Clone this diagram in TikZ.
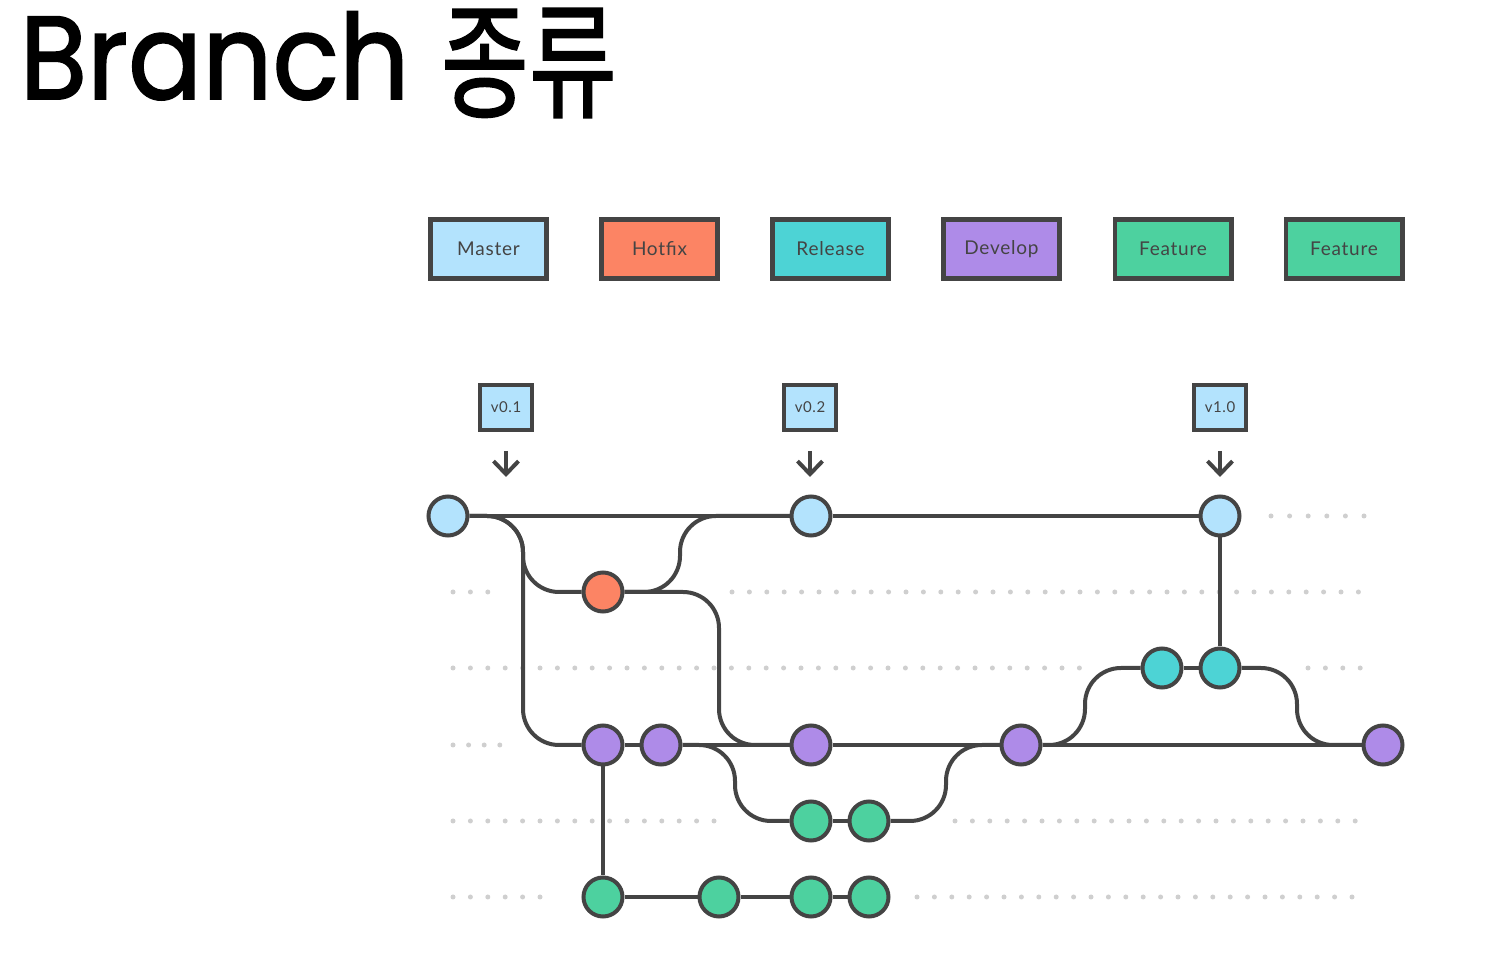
\documentclass[tikz,border=0pt]{standalone}
\usepackage{fontspec}
\usetikzlibrary{arrows.meta}
\newfontfamily\titlefont[FakeBold=1.6]{Poppins}
\newfontfamily\krfont[FakeBold=1.2]{Noto Sans CJK KR}
\newfontfamily\labelfont[LetterSpace=4]{Lato}
\definecolor{ink}{HTML}{444444}
\definecolor{cmaster}{HTML}{B3E3FD}
\definecolor{chotfix}{HTML}{FC8464}
\definecolor{crelease}{HTML}{4DD3D5}
\definecolor{cdevelop}{HTML}{AE8BE8}
\definecolor{cfeature}{HTML}{4DD19F}
\definecolor{cdot}{HTML}{CFCFCF}
\pgfdeclarelayer{dots}
\pgfdeclarelayer{links}
\pgfsetlayers{dots,links,main}
\tikzset{
  commit/.style={circle,draw=ink,line width=2pt,minimum size=19.5pt,inner sep=0pt},
  branchbox/.style={draw=ink,line width=2.3pt,minimum width=58.2pt,minimum height=29.7pt,inner sep=0pt,
    font=\labelfont\fontsize{9.5}{11}\selectfont,text=ink},
  tagbox/.style={draw=ink,fill=cmaster,line width=2pt,minimum width=26pt,minimum height=22.5pt,inner sep=0pt,
    font=\labelfont\fontsize{7.5}{9}\selectfont,text=ink},
  link/.style={draw=ink,line width=2pt,rounded corners=18pt},
  tagarrow/.style={draw=ink,line width=2pt,-{Straight Barb[length=6.5pt,width=12.5pt]}},
  dotrow/.style={draw=cdot,line width=2.5pt,line cap=round,dash pattern=on 0pt off 8.7pt},
}
\begin{document}
\begin{tikzpicture}[x=0.5pt,y=-0.5pt]
\useasboundingbox (0,0) rectangle (1496,972);
% title
\node[anchor=base west,inner sep=0pt,xscale=0.93] (title) at (19.5,99) {\titlefont\fontsize{59}{60}\selectfont Branch};
\node[anchor=base west,inner sep=0pt,xscale=0.76] (titlekr) at (440.5,108) {\krfont\fontsize{63}{66}\selectfont 종류};
% branch legend
\node[branchbox,fill=cmaster] (bmaster) at (488.5,249) {Master};
\node[branchbox,fill=chotfix] (bhotfix) at (659.5,249) {Hotfix};
\node[branchbox,fill=crelease] (brelease) at (830.5,249) {Release};
\node[branchbox,fill=cdevelop] (bdevelop) at (1001.5,249) {Develop};
\node[branchbox,fill=cfeature] (bfeat1) at (1173,249) {Feature};
\node[branchbox,fill=cfeature] (bfeat2) at (1344,249) {Feature};
% tags
\node[tagbox] (v01) at (506,407.5) {v0.1};
\node[tagbox] (v02) at (810,407.5) {v0.2};
\node[tagbox] (v10) at (1220,407.5) {v1.0};
\coordinate (a1) at (506,477);
\coordinate (a2) at (810,477);
\coordinate (a3) at (1220,477);
\draw[tagarrow] ([yshift=-9.5pt]v01.south) -- (a1);
\draw[tagarrow] ([yshift=-9.5pt]v02.south) -- (a2);
\draw[tagarrow] ([yshift=-9.5pt]v10.south) -- (a3);
% commits
\node[commit,fill=cmaster] (m1) at (448,516) {};
\node[commit,fill=cmaster] (m2) at (811,516) {};
\node[commit,fill=cmaster] (m3) at (1220,516) {};
\node[commit,fill=chotfix] (h1) at (603,592) {};
\node[commit,fill=crelease] (r1) at (1162,668) {};
\node[commit,fill=crelease] (r2) at (1220,668) {};
\node[commit,fill=cdevelop] (d1) at (603,745) {};
\node[commit,fill=cdevelop] (d2) at (661,745) {};
\node[commit,fill=cdevelop] (d3) at (811,745) {};
\node[commit,fill=cdevelop] (d4) at (1021,745) {};
\node[commit,fill=cdevelop] (d5) at (1383,745) {};
\node[commit,fill=cfeature] (f1) at (811,821) {};
\node[commit,fill=cfeature] (f2) at (869,821) {};
\node[commit,fill=cfeature] (g1) at (603,897) {};
\node[commit,fill=cfeature] (g2) at (719,897) {};
\node[commit,fill=cfeature] (g3) at (811,897) {};
\node[commit,fill=cfeature] (g4) at (869,897) {};
% bend points
\coordinate (k1) at (523,516);
\coordinate (k2) at (523,745);
\coordinate (k3) at (523,592);
\coordinate (k4) at (680,592);
\coordinate (k5) at (680,516);
\coordinate (k6) at (719,592);
\coordinate (k7) at (719,745);
\coordinate (k8) at (735,745);
\coordinate (k9) at (735,821);
\coordinate (k10) at (946,821);
\coordinate (k11) at (946,745);
\coordinate (k12) at (1085,745);
\coordinate (k13) at (1085,668);
\coordinate (k14) at (1297,668);
\coordinate (k15) at (1297,745);
\begin{pgfonlayer}{links}
\draw[link] (m1) -- (m2) -- (m3);
\draw[link] (m1) -- (k1) -- (k2) -- (d1);
\draw[link] (m1) -- (k1) -- (k3) -- (h1);
\draw[link] (h1) -- (k4) -- (k5) -- (m2);
\draw[link] (h1) -- (k6) -- (k7) -- (d3);
\draw[link] (d1) -- (d2) -- (d3) -- (d4) -- (d5);
\draw[link] (d2) -- (k8) -- (k9) -- (f1);
\draw[link] (f1) -- (f2);
\draw[link] (f2) -- (k10) -- (k11) -- (d4);
\draw[link] (d4) -- (k12) -- (k13) -- (r1);
\draw[link] (r1) -- (r2);
\draw[link] (r2) -- (m3);
\draw[link] (r2) -- (k14) -- (k15) -- (d5);
\draw[link] (d1) -- (g1);
\draw[link] (g1) -- (g2) -- (g3) -- (g4);
\end{pgfonlayer}
\begin{pgfonlayer}{dots}
\draw[dotrow,dash pattern=on 0pt off 9.3pt] (1271,516) -- (1366,516);
\draw[dotrow] (453,592) -- (492,592);
\draw[dotrow] (732,592) -- (1366,592);
\draw[dotrow] (453,668) -- (1081,668);
\draw[dotrow] (1308,668) -- (1366,668);
\draw[dotrow,dash pattern=on 0pt off 7.8pt] (453,745) -- (501,745);
\draw[dotrow] (453,821) -- (727,821);
\draw[dotrow] (955,821) -- (1366,821);
\draw[dotrow] (453,897) -- (557,897);
\draw[dotrow] (917,897) -- (1366,897);
\end{pgfonlayer}
\end{tikzpicture}
\end{document}
